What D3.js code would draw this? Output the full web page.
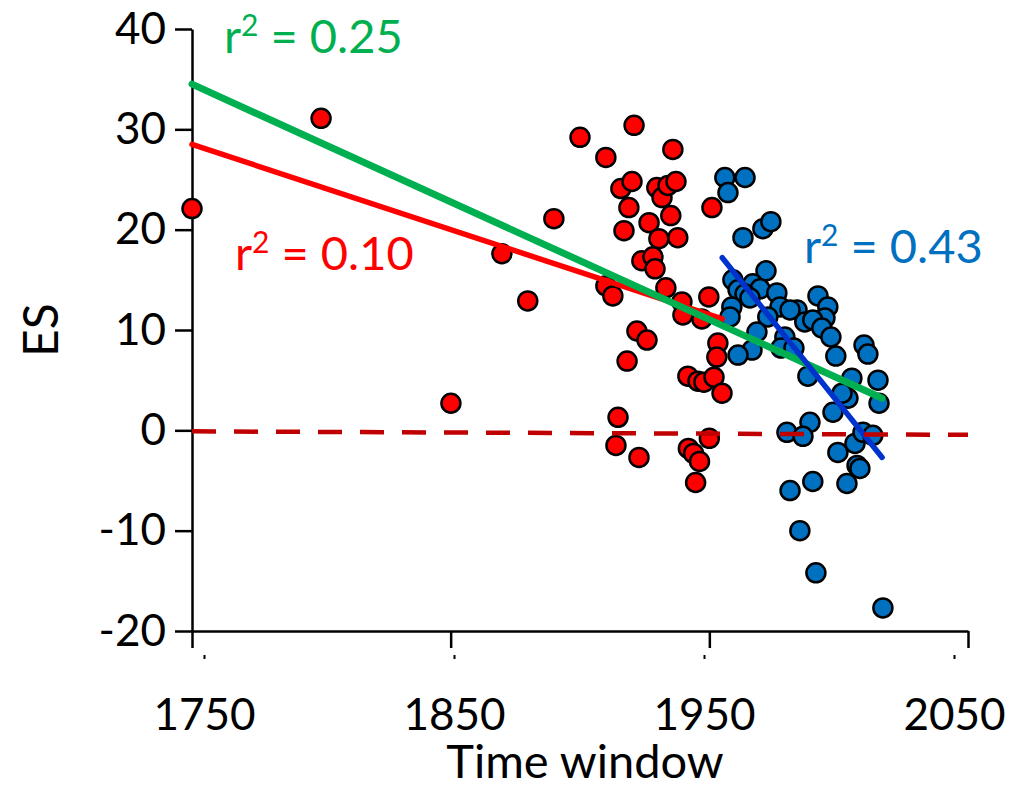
<!DOCTYPE html>
<html>
<head>
<meta charset="utf-8">
<script src="https://cdn.jsdelivr.net/npm/d3@7"></script>
<style>
  body { margin: 0; background: #fff; }
  svg { font-family: Lato, 'Open Sans', sans-serif; }
</style>
</head>
<body>
<svg width="1009" height="789"></svg>
<script>
// ---- data ----
const redYears = [1750, 1799.9, 1850.1, 1869.8, 1879.8, 1889.9, 1900, 1910, 1920.9, 1935.9,
  1915.8, 1920.1, 1929.7, 1931.7, 1934, 1937.1, 1918.9, 1935.1, 1926.7, 1917,
  1930.5, 1937.8, 1951, 1923.9, 1928.2, 1929, 1933.2, 1939.4, 1949.8, 1910,
  1912.7, 1939.8, 1947.1, 1922, 1925.9, 1918.2, 1953.3, 1952.9, 1941.7, 1945.6,
  1947.9, 1951.8, 1954.9, 1914.7, 1913.9, 1922.8, 1950, 1941.9, 1943.9, 1946.2, 1944.7]
const redES = [22.1, 31.1, 2.7, 17.6, 12.9, 21.1, 29.2, 27.2, 30.4, 28,
  24.1, 24.8, 24.2, 23.2, 24.4, 24.8, 22.2, 21.4, 20.7, 19.9,
  19.1, 19.2, 22.2, 16.9, 17.3, 16.1, 14.2, 12.8, 13.3, 14.4,
  13.4, 11.5, 11.1, 9.9, 9, 6.9, 8.7, 7.3, 5.4, 4.9,
  4.8, 5.3, 3.7, 1.3, -1.5, -2.7, -0.8, -1.8, -2.3, -3.1, -5.2]

const blueYears = [1956, 1963.8, 1957.2, 1963, 1970.7, 1973.8, 1971.9, 1959.1, 1966.8, 1969.6,
  1976.1, 1961.1, 1963.8, 1965.7, 1992, 1977.3, 1983.9, 1981.2, 1986.9, 1995.8,
  1994.7, 1990, 1993.5, 1958.7, 1958, 1972.6, 1968.4, 1979.2, 1977.7, 1982.7,
  1966.5, 1961.1, 1997, 1998.9, 2009.8, 2011.3, 1988.1, 2005.1, 2015.2, 2015.6,
  2003.6, 2001.3, 1997.8, 1988.9, 1980, 1986.2, 1999.7, 2006.3, 2009.4, 2013.2,
  2007.1, 2008.2, 1990, 2003.2, 1981.2, 1985, 1991.2, 2017.1]
const blueES = [25.2, 25.2, 23.7, 19.2, 20.1, 20.8, 15.9, 15, 14.6, 14.1,
  13.7, 14, 13.6, 13.2, 13.4, 12.3, 12, 12, 10.8, 12.3,
  11.2, 11, 10.2, 12.3, 11.3, 11.3, 9.8, 9.3, 8.2, 8.2,
  8, 7.5, 9.3, 7.4, 8.5, 7.6, 5.4, 5.2, 5, 2.7,
  3.2, 3.7, 1.8, 0.8, -0.2, -0.6, -2.2, -1.3, -0.2, -0.5,
  -3.5, -3.8, -5.1, -5.3, -6, -10, -14.2, -17.7]

// trend lines (end points)
const redTrendYears = [1750, 1955]
const redTrendES = [28.5, 11.1]
const greenTrendYears = [1750, 2016.8]
const greenTrendES = [34.5, 3.2]
const blueTrendYears = [1955, 2016.8]
const blueTrendES = [17.2, -2.7]
const zeroYears = [1750, 2050]
const zeroES = [-0.1, -0.45]

const xTicks = [1750, 1850, 1950, 2050]
const yTicks = [-20, -10, 0, 10, 20, 30, 40]

// ---- chart ----
const svg = d3.select('svg')

const x = d3.scaleLinear().domain([1750, 2050]).range([192, 968])
const xLab = d3.scaleLinear().domain([1750, 2050]).range([204, 954])
const y = d3.scaleLinear().domain([-20, 40]).range([631, 29])

const styleAxis = g => {
  g.attr('font-family', null).attr('font-size', null)
  g.selectAll('line, path').attr('stroke', '#000').attr('stroke-width', 2.5)
  g.selectAll('text').attr('font-size', 44).attr('fill', '#000')
}

// y axis
svg.append('g')
  .attr('transform', 'translate(192,0)')
  .call(d3.axisLeft(y).tickValues(yTicks).tickSize(17).tickSizeOuter(0).tickPadding(9)
    .tickFormat(d => String(d)))
  .call(styleAxis)

// x axis (line + ticks)
svg.append('g')
  .attr('transform', 'translate(0,631)')
  .call(d3.axisBottom(x).tickValues(xTicks).tickSize(17).tickSizeOuter(0).tickFormat(''))
  .call(styleAxis)

// x labels sit on their own slightly shifted ticks
svg.append('g')
  .attr('transform', 'translate(0,655)')
  .call(d3.axisBottom(xLab).tickValues(xTicks).tickSize(4).tickPadding(40).tickFormat(d => String(d)))
  .call(g => g.select('.domain').remove())
  .call(styleAxis)
  .call(g => g.selectAll('line').attr('stroke-width', 2))

svg.append('text')
  .attr('x', 585).attr('y', 778)
  .attr('text-anchor', 'middle')
  .attr('font-size', 47)
  .text('Time window')

svg.append('text')
  .attr('transform', 'translate(58,330) rotate(-90)')
  .attr('text-anchor', 'middle')
  .attr('font-size', 48)
  .text('ES')

// points
const drawPoints = (xs, ys, fill) => {
  svg.append('g')
    .selectAll('circle')
    .data(xs.map((d, i) => [d, ys[i]]))
    .join('circle')
    .attr('cx', d => x(d[0]))
    .attr('cy', d => y(d[1]))
    .attr('r', 9.5)
    .attr('fill', fill)
    .attr('stroke', '#000')
    .attr('stroke-width', 2.5)
}
drawPoints(redYears, redES, '#FF0000')
drawPoints(blueYears, blueES, '#0070C0')

// lines
const line = d3.line().x(d => x(d[0])).y(d => y(d[1]))
const drawLine = (xs, ys, color, w, dash) => {
  svg.append('path')
    .datum(xs.map((d, i) => [d, ys[i]]))
    .attr('d', line)
    .attr('fill', 'none')
    .attr('stroke', color)
    .attr('stroke-width', w)
    .attr('stroke-linecap', dash ? 'butt' : 'round')
    .attr('stroke-dasharray', dash || null)
}
drawLine(redTrendYears, redTrendES, '#FF0000', 5.5)
drawLine(greenTrendYears, greenTrendES, '#00B050', 7)
drawLine(blueTrendYears, blueTrendES, '#0033CC', 5.5)
drawLine(zeroYears, zeroES, '#C00000', 4.5, '24 18')

// r² labels
const r2 = (tx, ty, value, color) => {
  const t = svg.append('text')
    .attr('x', tx).attr('y', ty)
    .attr('font-size', 47)
    .attr('fill', color)
  t.append('tspan').text('r')
  t.append('tspan').attr('dy', -17).attr('font-size', 30).text('2')
  t.append('tspan').attr('dy', 17).text(' = ' + value)
}
r2(224, 53, '0.25', '#00B050')
r2(235, 270, '0.10', '#FF0000')
r2(804, 263, '0.43', '#0070C0')
</script>
</body>
</html>
